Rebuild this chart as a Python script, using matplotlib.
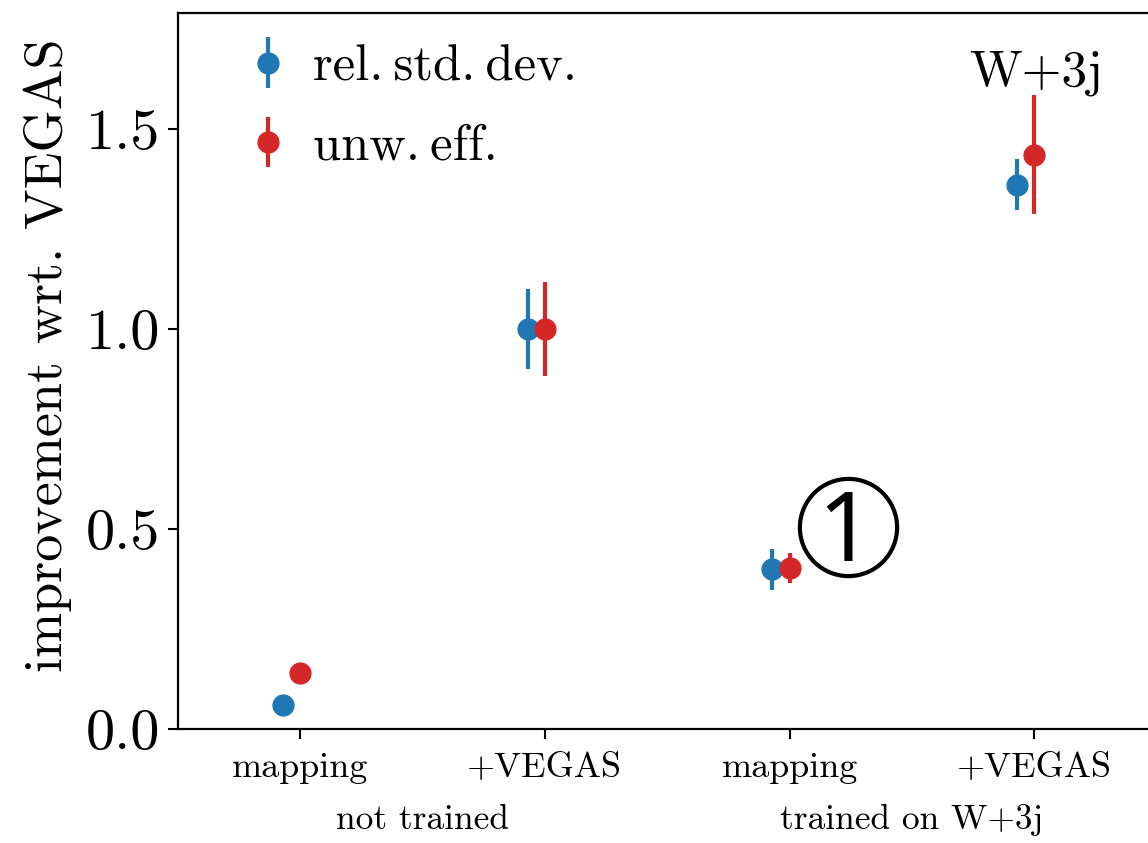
import matplotlib
matplotlib.use("Agg")
import matplotlib.pyplot as plt
import numpy as np

plt.rcParams['font.family'] = ['cmr10', 'DejaVu Sans']
plt.rcParams['mathtext.fontset'] = 'cm'
plt.rcParams['axes.formatter.use_mathtext'] = True

# data
categories = ['mapping', '+VEGAS', 'mapping', '+VEGAS']
groups = ['not trained', 'trained on W+3j']
labels = ['rel.\u2009std.\u2009dev.', 'unw.\u2009eff.']
std_vals = [0.06, 1.0, 0.40, 1.36]
std_lo = [0.0, 0.10, 0.052, 0.063]
std_hi = [0.0, 0.10, 0.050, 0.065]
eff_vals = [0.14, 1.0, 0.403, 1.435]
eff_lo = [0.0, 0.117, 0.037, 0.148]
eff_hi = [0.0, 0.117, 0.037, 0.150]
mark_pos = (2.237, 0.505)

x = np.arange(len(categories))

fig = plt.figure(figsize=(11.48, 8.43), dpi=100)
ax = fig.add_axes([0.155, 0.1352, 0.8524, 0.8494])

blue = '#1f77b4'
red = '#d62728'
ax.errorbar(x - 0.07, std_vals, yerr=[std_lo, std_hi], fmt='o', color=blue,
            ms=15, elinewidth=3, label=labels[0])
ax.errorbar(x, eff_vals, yerr=[eff_lo, eff_hi], fmt='o', color=red,
            ms=15, elinewidth=3, label=labels[1])

ax.set_xlim(-0.5, 3.5)
ax.set_ylim(0, 1.79)
ax.set_yticks([0, 0.5, 1.0, 1.5])
ax.set_yticklabels(['0.0', '0.5', '1.0', '1.5'])
ax.set_xticks(x)
ax.set_xticklabels(categories, fontsize=26)
ax.tick_params(axis='y', labelsize=42, length=7, width=1.5, pad=6)
ax.tick_params(axis='x', length=7, width=1.5, pad=10)
for s in ax.spines.values():
    s.set_linewidth(1.6)

ax.set_ylabel('improvement wrt. VEGAS', fontsize=39)
ax.yaxis.set_label_coords(-0.108, 0.522)

# group labels under the ticks
for i, g in enumerate(groups):
    ax.text(2 * i + 0.5, -0.2275, g, fontsize=25.5, ha='center', va='center',
            transform=ax.transData, clip_on=False)

ax.text(3.28, 1.64, 'W+3j', fontsize=37, ha='right', va='center')

# circled marker "1"
ax.plot([mark_pos[0]], [mark_pos[1]], marker='o', ms=70, mfc='none',
        mec='black', mew=3)
ax.text(mark_pos[0] - 0.01, mark_pos[1] - 0.086, '1', fontsize=70,
        ha='center', va='baseline', family='Noto Sans', fontweight='light')

leg = ax.legend(loc='upper left', frameon=False, fontsize=36.5,
                handletextpad=0.4, borderaxespad=0.0, labelspacing=0.66,
                handlelength=1.0, bbox_to_anchor=(0.045, 0.984))

fig.savefig('out.png', dpi=100)
